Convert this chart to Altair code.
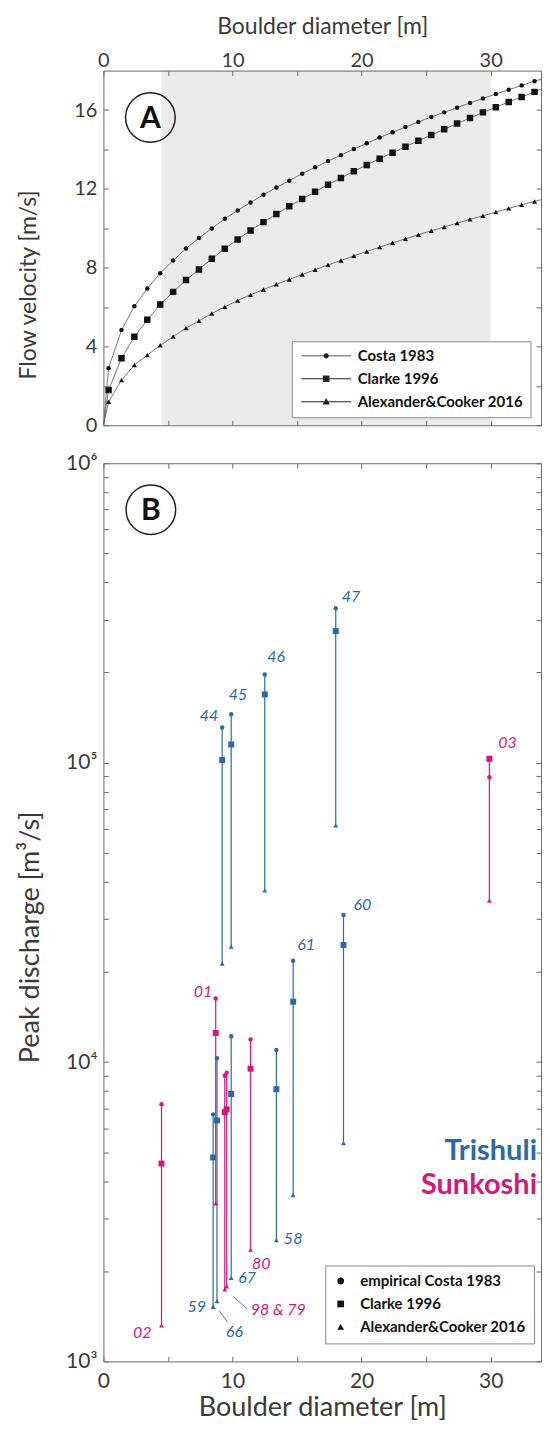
import altair as alt
import pandas as pd

# ---------------- Panel A data: flow velocity vs boulder diameter ----------------
methods_a = ["Costa 1983", "Clarke 1996", "Alexander&Cooker 2016"]
diam_a = [0.4, 1.4, 2.4, 3.4, 4.4, 5.4, 6.4, 7.4, 8.4, 9.4, 10.4, 11.4, 12.4, 13.4,
          14.4, 15.4, 16.4, 17.4, 18.4, 19.4, 20.4, 21.4, 22.4, 23.4, 24.4, 25.4,
          26.4, 27.4, 28.4, 29.4, 30.4, 31.4, 32.4, 33.4, 34.4]
v_costa = [2.90, 4.83, 6.04, 6.94, 7.72, 8.36, 8.97, 9.50, 9.99, 10.48, 10.90, 11.31,
           11.70, 12.07, 12.41, 12.77, 13.09, 13.41, 13.71, 14.02, 14.31, 14.60, 14.87,
           15.14, 15.39, 15.65, 15.88, 16.12, 16.36, 16.59, 16.81, 17.03, 17.25, 17.46, 17.66]
v_clarke = [1.79, 3.40, 4.49, 5.35, 6.13, 6.77, 7.37, 7.91, 8.45, 8.96, 9.43, 9.89,
            10.31, 10.72, 11.12, 11.48, 11.85, 12.21, 12.55, 12.89, 13.21, 13.53, 13.83,
            14.14, 14.44, 14.73, 15.02, 15.31, 15.59, 15.88, 16.14, 16.41, 16.66, 16.92, 17.19]
v_ac = [1.19, 2.29, 3.06, 3.56, 4.06, 4.50, 4.93, 5.30, 5.67, 6.01, 6.33, 6.62, 6.89,
        7.15, 7.40, 7.65, 7.89, 8.14, 8.36, 8.60, 8.82, 9.04, 9.26, 9.46, 9.67, 9.87,
        10.06, 10.26, 10.45, 10.63, 10.82, 11.01, 11.19, 11.36, 11.53]
curve_origin = [0.0, 0.0]          # all curves start at the origin
shade_range = [4.5, 30.0]          # grey band of boulder sizes

# ---------------- Panel B data: peak discharge per boulder site ----------------
methods_b = ["empirical Costa 1983", "Clarke 1996", "Alexander&Cooker 2016"]
rivers = ["Trishuli", "Sunkoshi"]
sites = ["44", "45", "46", "47", "60", "61", "58", "67", "66", "59",
         "03", "02", "01", "80", "98", "79"]
site_river = ["Trishuli"] * 10 + ["Sunkoshi"] * 6
diam_b = [9.2, 9.9, 12.5, 18.0, 18.6, 14.7, 13.4, 9.9, 8.8, 8.5,
          29.9, 4.5, 8.7, 11.4, 9.4, 9.55]
q_costa = [131000, 145000, 197000, 328000, 31000, 21800, 10970, 12200, 10300, 6680,
           89300, 7230, 16300, 11900, 9000, 9200]
q_clarke = [102000, 115000, 169000, 275000, 24600, 15900, 8110, 7820, 6380, 4800,
            103000, 4580, 12500, 9500, 6800, 6950]
q_ac = [21300, 24300, 37400, 61700, 5360, 3590, 2540, 1900, 1590, 1520,
        34600, 1320, 3370, 2360, 1740, 1780]

x_ticks = [0, 5, 10, 15, 20, 25, 30]
v_ticks = [0, 2, 4, 6, 8, 10, 12, 14, 16]
q_ticks = [m * 10 ** e for e in (3, 4, 5) for m in range(1, 10)] + [10 ** 6]

# ---------------- layout / style (not data) ----------------
W, HA, HB, GAP = 438, 355, 899, 38
X_MAX = 33.9
BLUE, MAG = "#2d6aa5", "#d3197c"
AXC, TXT = "#6b6b6b", "#3a3a3a"
FONT = "Lato"
SHAPES = ["circle", "square", "triangle-up"]

xs_a = alt.Scale(domain=[0, X_MAX], nice=False, zero=False)
ys_a = alt.Scale(domain=[0, 18], nice=False)
xs_b = alt.Scale(domain=[0, X_MAX], nice=False, zero=False)
ys_b = alt.Scale(type="log", domain=[1000, 1000000], nice=False)
river_scale = alt.Scale(domain=rivers, range=[BLUE, MAG])


def ax(**kw):
    base = dict(grid=False, domainColor=AXC, tickColor=AXC, domainWidth=1, tickWidth=1,
                labelColor=TXT, titleColor=TXT, labelFlush=False, labelOverlap=False,
                labelFont=FONT, titleFont=FONT, titleFontWeight="normal", tickSize=5,
                zindex=1)
    base.update(kw)
    return alt.Axis(**base)


even10 = "datum.value % 10 == 0 ? datum.label : ''"

# ---------- Panel A ----------
ax_a_top = ax(orient="bottom", offset=-HA, values=x_ticks, labelExpr=even10,
              labelBaseline="alphabetic", labelPadding=-9, labelFontSize=20,
              title="Boulder diameter [m]", titleFontSize=23, titleY=-37,
              titleBaseline="alphabetic")
ax_a_bot = ax(orient="top", offset=-HA, values=x_ticks, labels=False, title=None)
ax_a_left = ax(orient="right", offset=-W, values=v_ticks,
               labelExpr="datum.value % 4 == 0 ? datum.label : ''",
               labelAlign="right", labelBaseline="middle", labelPadding=-11.5,
               labelFontSize=20, title="Flow velocity [m/s]", titleFontSize=23,
               titleAngle=270, titleX=-74.5, titleY=214, titleAlign="center",
               titleBaseline="middle")
ax_a_right = ax(orient="left", offset=-W, values=v_ticks, labels=False, title=None)

rows = []
for m, vals in zip(methods_a, [v_costa, v_clarke, v_ac]):
    for d, v in zip(diam_a, vals):
        rows.append({"method": m, "d": d, "v": v})
pts_a = pd.DataFrame(rows)
line_a = pd.concat([pd.DataFrame({"method": methods_a, "d": curve_origin[0], "v": curve_origin[1]}),
                    pts_a], ignore_index=True)
band_a = pd.DataFrame({"lo": [shade_range[0]], "hi": [shade_range[1]]})

band = alt.Chart(band_a).mark_rect(color="#ebebeb").encode(
    x=alt.X("lo:Q", scale=xs_a, axis=ax_a_top), x2="hi:Q")

lines = alt.Chart(line_a).mark_line(color="#555555", strokeWidth=0.8, clip=True).encode(
    x=alt.X("d:Q", scale=xs_a, axis=ax_a_bot),
    y=alt.Y("v:Q", scale=ys_a, axis=ax_a_left),
    detail="method:N")

marker_layers = []
for k, (m, shp, sz) in enumerate(zip(methods_a, SHAPES, [20, 42, 26])):
    marker_layers.append(
        alt.Chart(pts_a).transform_filter(alt.datum.method == m).mark_point(
            shape=shp, size=sz, filled=True, color="#111111", opacity=1, clip=True).encode(
            x=alt.X("d:Q", scale=xs_a, axis=None),
            y=alt.Y("v:Q", scale=ys_a, axis=ax_a_right if k == 0 else None)))

# legend symbols: a thin line sample (filled sliver) with the marker in its middle
leg_paths = [
    "M-1,-0.09H9V0.09H-1ZM3.48,0A0.52,0.52,0,1,1,4.52,0A0.52,0.52,0,1,1,3.48,0Z",
    "M-1,-0.09H9V0.09H-1ZM3.34,-0.66H4.66V0.66H3.34Z",
    "M-1,-0.09H9V0.09H-1ZM4,-0.78L4.72,0.55H3.28Z",
]
legend_a = alt.Legend(orient="none", legendX=188.5, legendY=271, title=None,
                      fillColor="white", strokeColor="#8a8a8a", padding=7,
                      symbolSize=100, symbolStrokeWidth=0, symbolFillColor="#222222",
                      symbolOpacity=1, labelFont=FONT,
                      labelFontSize=15, labelFontWeight="bold", labelColor="#111111",
                      labelOffset=44, rowPadding=7, labelLimit=300)
leg_a = alt.Chart(pts_a).transform_filter("datum.d < 0").mark_point(
    filled=True, fill="#222222").encode(
    x=alt.X("d:Q", scale=xs_a, axis=None),
    y=alt.Y("v:Q", scale=ys_a, axis=None),
    shape=alt.Shape("method:N", scale=alt.Scale(domain=methods_a, range=leg_paths), legend=legend_a))

badge_a_df = pd.DataFrame({"panel": ["A"]})
badge_a = alt.Chart(badge_a_df).mark_point(shape="circle", size=2463, filled=False, color="#222222",
                                           strokeWidth=1.5, opacity=1).encode(
    x=alt.value(47), y=alt.value(47))
badge_a_t = alt.Chart(badge_a_df).mark_text(fontSize=30, fontWeight="bold", font=FONT, color="#111111",
                                            baseline="middle", align="center", dy=1).encode(
    x=alt.value(47), y=alt.value(47), text="panel:N")

chart_a = alt.layer(band, lines, *marker_layers, leg_a, badge_a, badge_a_t).properties(
    width=W, height=HA)

# ---------- Panel B ----------
ax_b_bot = ax(orient="top", offset=-HB, values=x_ticks, labelExpr=even10,
              labelBaseline="alphabetic", labelPadding=-31, labelFontSize=21,
              title="Boulder diameter [m]", titleFontSize=27, titleY=54,
              titleBaseline="alphabetic")
ax_b_top = ax(orient="bottom", offset=-HB, values=x_ticks, labels=False, title=None)
dec_expr = ("datum.value == 1000 ? '10³' : datum.value == 10000 ? '10⁴' : "
            "datum.value == 100000 ? '10⁵' : datum.value == 1000000 ? '10⁶' : ''")
ax_b_left = ax(orient="right", offset=-W, values=q_ticks, labelExpr=dec_expr,
               labelAlign="right", labelBaseline="middle", labelPadding=-11.5,
               labelFontSize=21, title="Peak discharge [m³/s]", titleFontSize=27,
               titleAngle=270, titleX=-72.5, titleY=474, titleAlign="center",
               titleBaseline="middle")
ax_b_right = ax(orient="left", offset=-W, values=q_ticks, labels=False, title=None)

qmin = [min(a, b, c) for a, b, c in zip(q_costa, q_clarke, q_ac)]
qmax = [max(a, b, c) for a, b, c in zip(q_costa, q_clarke, q_ac)]
seg_b = pd.DataFrame({"site": sites, "river": site_river, "d": diam_b, "qmin": qmin, "qmax": qmax})
rows = []
for m, vals in zip(methods_b, [q_costa, q_clarke, q_ac]):
    for s, r, d, q in zip(sites, site_river, diam_b, vals):
        rows.append({"method": m, "site": s, "river": r, "d": d, "q": q})
pts_b = pd.DataFrame(rows)

color_b = alt.Color("river:N", scale=river_scale, legend=None)

rules_b = alt.Chart(seg_b).mark_rule(strokeWidth=1.2).encode(
    x=alt.X("d:Q", scale=xs_b, axis=ax_b_bot),
    y=alt.Y("qmin:Q", scale=ys_b, axis=ax_b_left),
    y2="qmax:Q", color=color_b)

point_layers_b = []
for k, (m, shp, sz) in enumerate(zip(methods_b, SHAPES, [20, 36, 24])):
    point_layers_b.append(
        alt.Chart(pts_b).transform_filter(alt.datum.method == m).mark_point(
            shape=shp, size=sz, filled=True, opacity=1).encode(
            x=alt.X("d:Q", scale=xs_b, axis=ax_b_top if k == 0 else None),
            y=alt.Y("q:Q", scale=ys_b, axis=ax_b_right if k == 0 else None),
            color=color_b))

legend_b = alt.Legend(orient="none", legendX=222, legendY=803, title=None,
                      fillColor="white", strokeColor="#8a8a8a", padding=8,
                      symbolSize=45, symbolFillColor="#111111",
                      symbolStrokeWidth=0, symbolOpacity=1, labelFont=FONT,
                      labelFontSize=15, labelFontWeight="bold", labelColor="#111111",
                      labelOffset=12, rowPadding=7, labelLimit=300)
leg_b = alt.Chart(pts_b).transform_filter("datum.d < 0").mark_point(
    filled=True, fill="#111111").encode(
    x=alt.X("d:Q", scale=xs_b, axis=None),
    y=alt.Y("q:Q", scale=ys_b, axis=None),
    shape=alt.Shape("method:N", scale=alt.Scale(domain=methods_b, range=SHAPES), legend=legend_b))

# label placement (text, anchor site, anchor end, align, dx, dy)
label_place = [
    ("44", "44", "top", "right", -4, -12),
    ("45", "45", "top", "left", -2.5, -19),
    ("46", "46", "top", "left", 2.5, -17),
    ("47", "47", "top", "left", 6, -11.5),
    ("03", "03", "top", "left", 9, -16),
    ("60", "60", "top", "left", 10, -10),
    ("61", "61", "top", "left", 4, -16),
    ("01", "01", "top", "right", -3.5, -6),
    ("58", "58", "bottom", "left", 7.5, -1),
    ("80", "80", "bottom", "left", 1.5, 14.5),
    ("67", "67", "bottom", "left", 7, 0.5),
    ("59", "59", "bottom", "right", -7, 0.5),
    ("66", "66", "bottom", "left", 9, 31),
    ("98 & 79", "98", "bottom", "left", 26, 21),
    ("02", "02", "bottom", "right", -10, 7.5),
]
label_layers = []
for txt, s, end, align, dx, dy in label_place:
    i = sites.index(s)
    q = qmax[i] if end == "top" else qmin[i]
    df = pd.DataFrame({"d": [diam_b[i]], "q": [q], "txt": [txt], "river": [site_river[i]]})
    label_layers.append(alt.Chart(df).mark_text(
        align=align, baseline="middle", dx=dx, dy=dy, fontSize=16, fontStyle="italic",
        font=FONT).encode(
        x=alt.X("d:Q", scale=xs_b, axis=None), y=alt.Y("q:Q", scale=ys_b, axis=None),
        text="txt:N", color=color_b))

# leader lines (site, offset near point, offset near label)
leader_place = [("66", (2.3, 9.7), (10.7, 21.3)), ("98", (8.7, 7.3), (22.7, 19.6))]
for s, (ox1, oy1), (ox2, oy2) in leader_place:
    i = sites.index(s)
    df = pd.DataFrame({"d": [diam_b[i]], "q": [qmin[i]]})
    label_layers.append(alt.Chart(df).mark_rule(
        color="#555555", strokeWidth=0.8, xOffset=ox1, yOffset=oy1,
        x2Offset=ox2, y2Offset=oy2).encode(
        x=alt.X("d:Q", scale=xs_b, axis=None), x2="d:Q",
        y=alt.Y("q:Q", scale=ys_b, axis=None), y2="q:Q"))

river_text = []
for r, ypix in zip(rivers, [697.7, 731.7]):
    river_text.append(alt.Chart(pd.DataFrame({"river": [r]})).mark_text(
        align="right", baseline="alphabetic", fontSize=29, fontWeight="bold", font=FONT).encode(
        x=alt.value(434), y=alt.value(ypix), text="river:N", color=color_b))

badge_b_df = pd.DataFrame({"panel": ["B"]})
badge_b = alt.Chart(badge_b_df).mark_point(shape="circle", size=2463, filled=False, color="#222222",
                                           strokeWidth=1.5, opacity=1).encode(
    x=alt.value(47.5), y=alt.value(46.5))
badge_b_t = alt.Chart(badge_b_df).mark_text(fontSize=30, fontWeight="bold", font=FONT, color="#111111",
                                            baseline="middle", align="center", dy=1).encode(
    x=alt.value(47.5), y=alt.value(46.5), text="panel:N")

chart_b = alt.layer(rules_b, *point_layers_b, leg_b, *label_layers, *river_text,
                    badge_b, badge_b_t).properties(width=W, height=HB)

chart = alt.vconcat(chart_a, chart_b, spacing=GAP, bounds="flush").resolve_scale(
    shape="independent", color="independent").properties(
    padding={"left": 8.5, "top": 7, "right": 0, "bottom": 0}).configure(
    font=FONT).configure_view(stroke=None)

chart.save("out.html", embed_options={"renderer": "svg", "actions": False})
